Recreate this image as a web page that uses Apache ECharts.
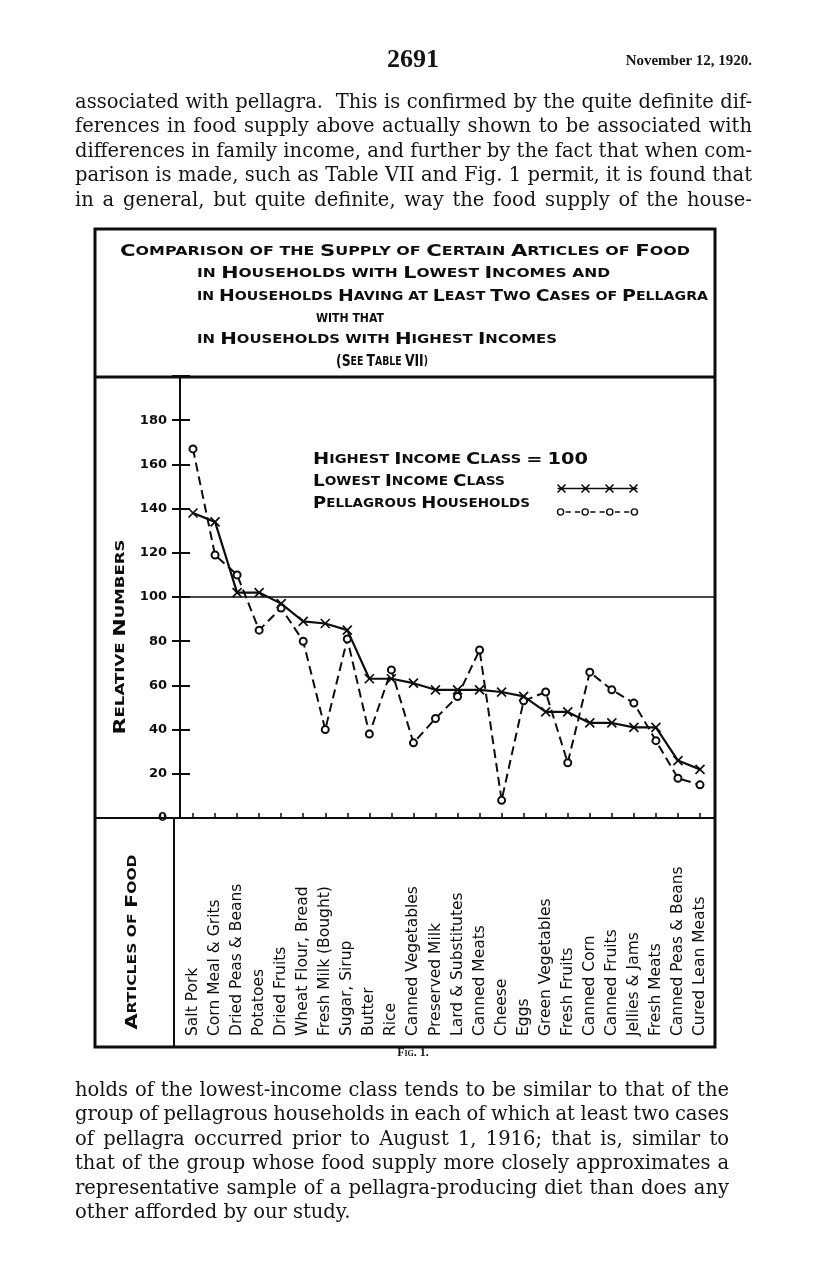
<!DOCTYPE html>
<html>
<head>
<meta charset="utf-8">
<title>Fig. 1 - Supply of certain articles of food</title>
<script src="https://cdn.jsdelivr.net/npm/echarts@6/dist/echarts.min.js"></script>
<style>
  html, body { margin: 0; padding: 0; background: #fff; }
  .page { position: relative; width: 816px; height: 1276px; overflow: hidden; }
  #chart { position: absolute; left: 0; top: 0; width: 816px; height: 1276px; }
  .txt { position: absolute; font-family: "DejaVu Serif", serif; color: #141414; font-size: 19.5px; line-height: 24.4px; }
  .txt div { white-space: nowrap; text-align: left; }
  .head { position: absolute; font-family: "Liberation Serif", serif; font-weight: bold; color: #141414; }
</style>
</head>
<body>
<div class="page">
  <div id="chart"></div>

  <div class="head" style="left:363px; top:44px; width:100px; text-align:center; font-size:26px;">2691</div>
  <div class="head" style="left:552px; top:52px; width:200px; text-align:right; font-size:15px;">November 12, 1920.</div>

  <div class="txt" style="left:75px; top:90px; width:677px;">
    <div>associated with pellagra.&nbsp; This is confirmed by the quite definite dif-</div>
    <div>ferences in food supply above actually shown to be associated with</div>
    <div>differences in family income, and further by the fact that when com-</div>
    <div>parison is made, such as Table VII and Fig. 1 permit, it is found that</div>
    <div>in a general, but quite definite, way the food supply of the house-</div>
  </div>

  <div class="head" style="left:363px; top:1045px; width:100px; text-align:center; font-size:12px; font-variant:small-caps;">Fig. 1.</div>

  <div class="txt" style="left:75px; top:1078px; width:654px;">
    <div>holds of the lowest-income class tends to be similar to that of the</div>
    <div>group of pellagrous households in each of which at least two cases</div>
    <div>of pellagra occurred prior to August 1, 1916; that is, similar to</div>
    <div>that of the group whose food supply more closely approximates a</div>
    <div>representative sample of a pellagra-producing diet than does any</div>
    <div class="last">other afforded by our study.</div>
  </div>
</div>

<script>
// articles of food, in the order of the figure
const categories = [
  "Salt Pork", "Corn Meal & Grits", "Dried Peas & Beans", "Potatoes",
  "Dried Fruits", "Wheat Flour, Bread", "Fresh Milk (Bought)", "Sugar, Sirup",
  "Butter", "Rice", "Canned Vegetables", "Preserved Milk",
  "Lard & Substitutes", "Canned Meats", "Cheese", "Eggs",
  "Green Vegetables", "Fresh Fruits", "Canned Corn", "Canned Fruits",
  "Jellies & Jams", "Fresh Meats", "Canned Peas & Beans", "Cured Lean Meats"
];
// relative numbers, highest income class = 100
const lowestIncome = [138, 134, 102, 102, 97, 89, 88, 85, 63, 63, 61, 58, 58, 58, 57, 55, 48, 48, 43, 43, 41, 41, 26, 22];
const pellagrous = [167, 119, 110, 85, 95, 80, 40, 81, 38, 67, 34, 45, 55, 76, 8, 53, 57, 25, 66, 58, 52, 35, 18, 15];
const highestIncomeBase = 100;
// y axis ticks 0..180 (axis runs up to 200)
const yMin = 0;
const yMax = 200;
const yStep = 20;

const INK = "#0d0d0d";
const LETTER_FONT = '"DejaVu Sans", sans-serif';

// justify the page text line by line (fixed line breaks, as printed)
function justifyLines() {
  document.querySelectorAll(".txt div").forEach((line) => {
    if (line.classList.contains("last")) return;
    const span = document.createElement("span");
    span.innerHTML = line.innerHTML.trim();
    line.innerHTML = "";
    line.appendChild(span);
    const target = line.parentElement.clientWidth;
    const natural = span.getBoundingClientRect().width;
    const gaps = (span.textContent.match(/\s/g) || []).length;
    if (gaps) span.style.wordSpacing = ((target - natural) / gaps).toFixed(2) + "px";
  });
}

// hand lettering in small caps: big capitals, small upper case for the rest
function capsPieces(str) {
  return str.split(/([A-Z0-9=(]+)/).filter(Boolean).map((p) => ({
    big: /[A-Z0-9=(]/.test(p),
    text: p.toUpperCase(),
  }));
}
function smallCaps(str) {
  return capsPieces(str).map((p) => "{" + (p.big ? "c" : "s") + "|" + p.text + "}").join("");
}
const measureCtx = document.createElement("canvas").getContext("2d");
function capsWidth(str, big, small) {
  return capsPieces(str).reduce((w, p) => {
    measureCtx.font = "bold " + (p.big ? big : small) + "px " + LETTER_FONT;
    return w + measureCtx.measureText(p.text).width;
  }, 0);
}
// lettered line, stretched to the width it has on the drawing
function lettering(str, x, y, width, big, small, rotation) {
  const scaleX = width / capsWidth(str, big, small);
  return {
    type: "text",
    x: x,
    y: y,
    rotation: rotation || 0,
    scaleX: scaleX,
    silent: true,
    style: {
      text: smallCaps(str),
      fill: INK,
      align: rotation ? "center" : "left",
      verticalAlign: "middle",
      rich: {
        c: { fontSize: big, fontWeight: "bold", fontFamily: LETTER_FONT, fill: INK },
        s: { fontSize: small, fontWeight: "bold", fontFamily: LETTER_FONT, fill: INK },
      },
    },
  };
}

const crossIcon = "path://M0,5L80,5M0,1L8,9M8,1L0,9M24,1L32,9M32,1L24,9M48,1L56,9M56,1L48,9M72,1L80,9M80,1L72,9";
const circleIcon = "path://M7,5A3,3,0,1,1,1,5A3,3,0,1,1,7,5M9,5L14,5M18,5L23,5" +
  "M31,5A3,3,0,1,1,25,5A3,3,0,1,1,31,5M33,5L38,5M42,5L47,5" +
  "M55,5A3,3,0,1,1,49,5A3,3,0,1,1,55,5M57,5L62,5M66,5L71,5" +
  "M79,5A3,3,0,1,1,73,5A3,3,0,1,1,79,5";

function initChart() {
  const chart = echarts.init(document.getElementById("chart"), null, { renderer: "canvas" });

  const option = {
    animation: false,
    backgroundColor: "transparent",
    grid: [
      // frame: axis, ticks and the 100 line, from the axis to the border
      { left: 180, right: 102, top: 376, bottom: 458 },
      // plotted points
      { left: 193, right: 116, top: 376, bottom: 458 },
    ],
    xAxis: [
      { type: "value", gridIndex: 0, min: 0, max: 1, show: false },
      {
        type: "category",
        gridIndex: 1,
        data: categories,
        boundaryGap: false,
        axisLine: { show: false },
        axisTick: { show: true, inside: true, length: 5, lineStyle: { color: INK, width: 1.5 } },
        axisLabel: {
          interval: 0,
          rotate: 90,
          align: "left",
          verticalAlign: "middle",
          margin: 218,
          color: INK,
          fontFamily: LETTER_FONT,
          fontSize: 15.5,
        },
        splitLine: { show: false },
      },
    ],
    yAxis: [
      {
        type: "value",
        gridIndex: 0,
        position: "left",
        min: yMin,
        max: yMax,
        interval: yStep,
        axisLine: { show: true, lineStyle: { color: INK, width: 2 } },
        axisTick: { show: true, length: 8, lineStyle: { color: INK, width: 2 } },
        axisLabel: {
          margin: 13,
          color: INK,
          fontFamily: LETTER_FONT,
          fontWeight: "bold",
          fontSize: 13,
          formatter: (v) => (v >= 190 ? "" : String(v)),
        },
        splitLine: { show: false },
      },
      {
        // the ticks cross the axis: inner half
        type: "value",
        gridIndex: 0,
        position: "left",
        min: yMin,
        max: yMax,
        interval: yStep,
        axisLine: { show: false },
        axisTick: { show: true, inside: true, length: 10, lineStyle: { color: INK, width: 2 } },
        axisLabel: { show: false },
        splitLine: { show: false },
      },
      { type: "value", gridIndex: 1, min: yMin, max: yMax, show: false },
    ],
    legend: {
      orient: "vertical",
      left: 550,
      top: 477,
      itemWidth: 80,
      itemHeight: 10,
      itemGap: 12,
      selectedMode: false,
      formatter: () => "",
      data: [
        {
          name: "Lowest Income Class",
          icon: crossIcon,
          itemStyle: { color: "none", borderColor: INK, borderWidth: 1.6 },
        },
        {
          name: "Pellagrous Households",
          icon: circleIcon,
          itemStyle: { color: "#fff", borderColor: INK, borderWidth: 1.4 },
        },
      ],
    },
    series: [
      {
        name: "Highest Income Class",
        type: "line",
        xAxisIndex: 0,
        yAxisIndex: 0,
        data: [],
        markLine: {
          silent: true,
          symbol: "none",
          label: { show: false },
          lineStyle: { color: INK, width: 1.6, type: "solid" },
          data: [{ yAxis: highestIncomeBase }],
        },
      },
      {
        name: "Pellagrous Households",
        type: "line",
        xAxisIndex: 1,
        yAxisIndex: 2,
        data: pellagrous,
        symbol: "emptyCircle",
        symbolSize: 7,
        lineStyle: { color: INK, width: 2, type: [9, 5] },
        itemStyle: { color: INK, borderColor: INK, borderWidth: 1.5 },
        z: 3,
      },
      {
        name: "Lowest Income Class",
        type: "line",
        xAxisIndex: 1,
        yAxisIndex: 2,
        data: lowestIncome,
        symbol: "path://M0,0L10,10M10,0L0,10",
        symbolSize: 9,
        lineStyle: { color: INK, width: 2.2 },
        itemStyle: { color: INK, borderColor: INK, borderWidth: 1.7 },
        z: 4,
      },
    ],
    graphic: [
      // border of the figure and its dividers
      { type: "rect", silent: true, shape: { x: 95, y: 229, width: 620, height: 818 },
        style: { fill: "none", stroke: INK, lineWidth: 3 } },
      { type: "line", silent: true, shape: { x1: 95, y1: 377, x2: 715, y2: 377 },
        style: { stroke: INK, lineWidth: 3 } },
      { type: "line", silent: true, shape: { x1: 95, y1: 818, x2: 715, y2: 818 },
        style: { stroke: INK, lineWidth: 2 } },
      { type: "line", silent: true, shape: { x1: 174, y1: 818, x2: 174, y2: 1047 },
        style: { stroke: INK, lineWidth: 2 } },
      // title
      lettering("Comparison of the Supply of Certain Articles of Food", 120, 252, 570, 16, 12),
      lettering("in Households with Lowest Incomes and", 197, 274, 413, 16, 12),
      lettering("in Households Having at Least Two Cases of Pellagra", 197, 297, 511, 16, 12),
      lettering("with that", 316, 319, 68, 16, 12),
      lettering("in Households with Highest Incomes", 197, 340, 360, 16, 12),
      lettering("(See Table VII)", 336, 362, 92, 16, 12),
      // key
      lettering("Highest Income Class = 100", 313, 460, 275, 16, 12),
      lettering("Lowest Income Class", 313, 482, 192, 16, 12),
      lettering("Pellagrous Households", 313, 504, 217, 16, 12),
      // axis titles
      lettering("Relative Numbers", 121, 637, 195, 16, 12, Math.PI / 2),
      lettering("Articles of Food", 133, 942, 175, 16, 12, Math.PI / 2),
    ],
  };

  chart.setOption(option);
  window.addEventListener("resize", () => chart.resize());
}

justifyLines();
initChart();
</script>
</body>
</html>
